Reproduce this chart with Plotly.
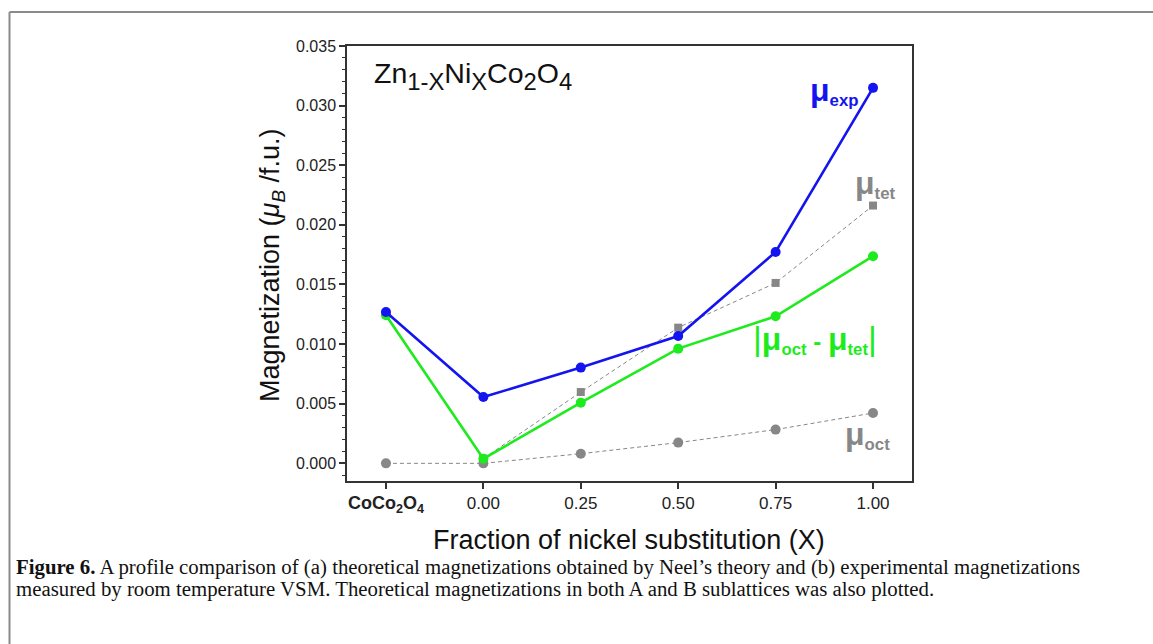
import plotly.graph_objects as go

# ---- data ----
x_vals = [-0.25, 0.0, 0.25, 0.5, 0.75, 1.0]
x_ticktext = ["<b><span style='font-size:18px'>CoCo<sub>2</sub>O<sub>4</sub></span></b>",
              "0.00", "0.25", "0.50", "0.75", "1.00"]
mu_exp = [0.01269, 0.00556, 0.00803, 0.01068, 0.01773, 0.03149]
mu_diff = [0.01242, 0.00039, 0.00509, 0.00962, 0.01233, 0.01737]
mu_tet = [0.0125, 0.0004, 0.00598, 0.01138, 0.01513, 0.02162]
mu_oct = [0.0, 0.0, 0.00081, 0.00174, 0.00283, 0.00422]

W, H = 1153, 644
L, R, T, B = 347, 912, 46, 481

def px(x):
    return (x - L) / (R - L)

def py(y):
    return (B - y) / (B - T)

BLUE = "#1414F0"
GREEN = "#1EEB1E"
GRAY = "#878787"
FONT = "Liberation Sans, Arial, sans-serif"

fig = go.Figure()
fig.add_trace(go.Scatter(x=x_vals, y=mu_oct, mode="lines+markers",
                         line=dict(color=GRAY, width=1, dash="4px,3px"),
                         marker=dict(symbol="circle", size=10, color=GRAY)))
fig.add_trace(go.Scatter(x=x_vals, y=mu_tet, mode="lines+markers",
                         line=dict(color=GRAY, width=1, dash="4px,3px"),
                         marker=dict(symbol="square", size=8, color=GRAY)))
fig.add_trace(go.Scatter(x=x_vals, y=mu_diff, mode="lines+markers",
                         line=dict(color=GREEN, width=2.6),
                         marker=dict(symbol="circle", size=10, color=GREEN)))
fig.add_trace(go.Scatter(x=x_vals, y=mu_exp, mode="lines+markers",
                         line=dict(color=BLUE, width=2.6),
                         marker=dict(symbol="circle", size=10, color=BLUE)))

fig.update_layout(
    width=W, height=H,
    margin=dict(l=L, r=W - R, t=T, b=H - B, pad=0),
    paper_bgcolor="white", plot_bgcolor="white",
    showlegend=False,
    font=dict(family=FONT, color="#222222"),
)
fig.update_xaxes(
    range=[-0.35, 1.10], tickvals=x_vals, ticktext=x_ticktext,
    showline=True, linecolor="#333333", linewidth=1.5, mirror=True,
    ticks="outside", ticklen=6, tickwidth=1.5, tickcolor="#333333",
    showgrid=False, zeroline=False, tickfont=dict(size=17, family=FONT, color="#222222"),
)
fig.update_yaxes(
    range=[-0.00148, 0.035], dtick=0.005, tick0=0, tickformat=".3f",
    showline=True, linecolor="#333333", linewidth=1.5, mirror=True,
    ticks="outside", ticklen=6, tickwidth=1.5, tickcolor="#333333",
    minor=dict(dtick=0.001, ticks="outside", ticklen=3, tickcolor="#333333", tickwidth=1),
    showgrid=False, zeroline=False, tickfont=dict(size=16, family=FONT, color="#222222"),
)

MU = "<span style='font-size:32px'>μ</span>"
BAR = "<span style='font-size:34px; font-weight:normal'>|</span>"

def big(s):
    return "<span style='font-size:28.5px'>" + s + "</span>"

ann = []
ann.append(dict(text=big("Zn") + "<sub>1-X</sub>" + big("Ni") + "<sub>X</sub>"
                     + big("Co") + "<sub>2</sub>" + big("O") + "<sub>4</sub>",
                x=px(372), y=py(76), xanchor="left", yanchor="middle",
                font=dict(size=34, family=FONT, color="#111111")))
ann.append(dict(text="<b>" + MU + "<sub>exp</sub></b>", x=px(834), y=py(91),
                xanchor="center", yanchor="middle",
                font=dict(size=24, family=FONT, color=BLUE)))
ann.append(dict(text="<b>" + MU + "<sub>tet</sub></b>", x=px(875), y=py(184),
                xanchor="center", yanchor="middle",
                font=dict(size=24, family=FONT, color=GRAY)))
ann.append(dict(text="<b>" + BAR + MU + "<sub>oct</sub> - " + MU + "<sub>tet</sub>" + BAR + "</b>",
                x=px(815), y=py(339), xanchor="center", yanchor="middle",
                font=dict(size=24, family=FONT, color=GREEN)))
ann.append(dict(text="<b>" + MU + "<sub>oct</sub></b>", x=px(867), y=py(435),
                xanchor="center", yanchor="middle",
                font=dict(size=24, family=FONT, color=GRAY)))
ann.append(dict(text="Magnetization (<i>μ<sub>B</sub></i> /f.u.)", x=px(272), y=py(265),
                xanchor="center", yanchor="middle", textangle=-90,
                font=dict(size=27, family=FONT, color="#111111")))
ann.append(dict(text="Fraction of nickel substitution (X)", x=px(629), y=py(540),
                xanchor="center", yanchor="middle",
                font=dict(size=27, family=FONT, color="#111111")))
CAP = "Liberation Serif, Times New Roman, serif"
ann.append(dict(text="<b>Figure 6.</b> A profile comparison of (a) theoretical magnetizations obtained by Neel’s theory and (b) experimental magnetizations",
                x=px(14), y=py(567), xanchor="left", yanchor="middle",
                font=dict(size=20.8, family=CAP, color="#111111")))
ann.append(dict(text="measured by room temperature VSM. Theoretical magnetizations in both A and B sublattices was also plotted.",
                x=px(14), y=py(589), xanchor="left", yanchor="middle",
                font=dict(size=20.8, family=CAP, color="#111111")))
for a in ann:
    a.update(xref="paper", yref="paper", showarrow=False)
fig.update_layout(annotations=ann)

# outer figure frame (top and left edges)
fig.add_shape(type="line", xref="paper", yref="paper",
              x0=px(9.5), x1=px(1160), y0=py(12), y1=py(12),
              line=dict(color="#8a8a8a", width=2))
fig.add_shape(type="line", xref="paper", yref="paper",
              x0=px(9.5), x1=px(9.5), y0=py(12), y1=py(650),
              line=dict(color="#8a8a8a", width=2))

fig.write_html("out.html")
